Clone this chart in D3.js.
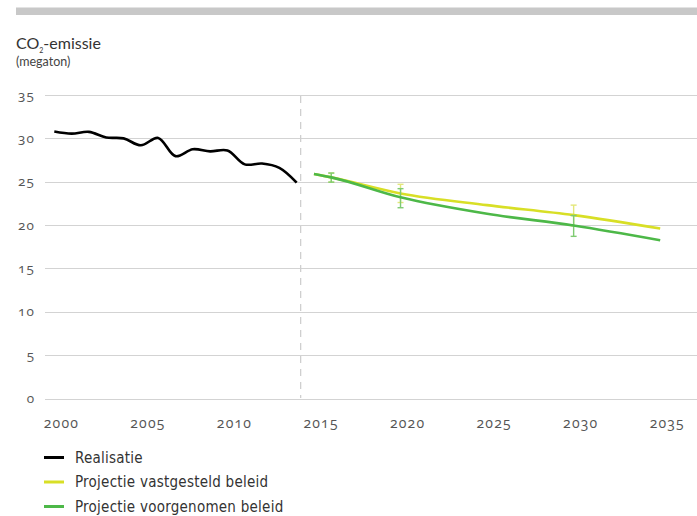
<!DOCTYPE html>
<html>
<head>
<meta charset="utf-8">
<script src="https://cdn.jsdelivr.net/npm/d3@7"></script>
<style>
  body { margin: 0; background: #fff; }
  svg { font-family: Lato, "Open Sans", sans-serif; }
  .tick-num { font-family: "Open Sans", Lato, sans-serif; font-variant-numeric: oldstyle-nums; font-feature-settings: "onum" 1; letter-spacing: 1.2px; }
</style>
</head>
<body>
<svg id="chart" width="697" height="516"></svg>
<script>
// realisatie 2000-2014
var realYears = [2000,2001,2002,2003,2004,2005,2006,2007,2008,2009,2010,2011,2012,2013,2014];
var realValues = [30.8,30.55,30.75,30.1,30.0,29.2,30.05,27.95,28.75,28.5,28.6,27.0,27.1,26.6,24.9];

// projecties
var projYears = [2015,2016,2020,2025,2030,2035];
var vastgesteld = [25.9,25.5,23.65,22.3,21.15,19.6];
var voorgenomen = [25.9,25.5,23.2,21.3,19.95,18.25];

// onzekerheidsbanden
var errYears = [2016,2020,2030];
var errVastLow = [24.95,22.6,19.9];
var errVastHigh = [26.0,24.7,22.3];
var errVoorLow = [24.95,22.0,18.7];
var errVoorHigh = [26.0,24.2,21.1];

var yTicks = [0,5,10,15,20,25,30,35];
var xTicks = [2000,2005,2010,2015,2020,2025,2030,2035];

var legendLabels = ["Realisatie","Projectie vastgesteld beleid","Projectie voorgenomen beleid"];
var legendColors = ["#000000","#d8df26","#4db848"];

var svg = d3.select("#chart");

var x = d3.scaleLinear().domain([2000, 2035]).range([54.3, 660.2]);
var y = d3.scaleLinear().domain([0, 35]).range([398.5, 95]);

// grey bar on top
svg.append("rect")
    .attr("x", 16).attr("y", 7.5)
    .attr("width", 681).attr("height", 7.5)
    .attr("fill", "#c8c8c8");

// title
var title = svg.append("text")
    .attr("x", 16).attr("y", 48.5)
    .style("font-size", "16px")
    .attr("fill", "#333");
title.append("tspan").text("CO");
title.append("tspan").attr("dy", 4).style("font-size", "7px").text("2");
title.append("tspan").attr("dy", -4).text("-emissie");

svg.append("text")
    .attr("x", 16).attr("y", 66)
    .style("font-size", "12.5px")
    .attr("fill", "#444")
    .text("(megaton)");

// grid
svg.append("g").selectAll("line")
    .data(yTicks)
    .enter().append("line")
    .attr("x1", 45).attr("x2", 697)
    .attr("y1", function(d){ return Math.round(y(d)) + 0.5; })
    .attr("y2", function(d){ return Math.round(y(d)) + 0.5; })
    .style("stroke", "#d3d3d3")
    .style("stroke-width", 1);

// y labels
svg.append("g").selectAll("text")
    .data(yTicks)
    .enter().append("text")
    .attr("class", "tick-num")
    .attr("x", 35.2)
    .attr("y", function(d){ return y(d) + 4.5; })
    .attr("text-anchor", "end")
    .style("font-size", "13.5px")
    .attr("fill", "#555")
    .text(function(d){ return d; });

// x labels
svg.append("g").selectAll("text")
    .data(xTicks)
    .enter().append("text")
    .attr("class", "tick-num")
    .attr("x", function(d){ return x(d) + 7.1; })
    .attr("y", 428)
    .attr("text-anchor", "middle")
    .style("font-size", "14px")
    .attr("fill", "#555")
    .text(function(d){ return d; });

// separator
svg.append("line")
    .attr("x1", x(2014.23)).attr("x2", x(2014.23))
    .attr("y1", 96).attr("y2", 398)
    .style("stroke", "#cfcfcf")
    .style("stroke-width", 1.3)
    .style("stroke-dasharray", "7,6");

var line = d3.line()
    .x(function(d){ return x(d[0]); })
    .y(function(d){ return y(d[1]); });

svg.append("path")
    .datum(d3.zip(realYears, realValues))
    .attr("d", line.curve(d3.curveCatmullRom.alpha(0.5)))
    .attr("fill", "none")
    .style("stroke", legendColors[0])
    .style("stroke-width", 2.6);

var projLine = d3.line()
    .x(function(d){ return x(d[0]); })
    .y(function(d){ return y(d[1]); })
    .curve(d3.curveMonotoneX);

function errorBars(lo, hi, color) {
    var g = svg.append("g").style("stroke", color).style("stroke-width", 1.4);
    errYears.forEach(function(yr, i){
        var cx = x(yr);
        g.append("line").attr("x1", cx).attr("x2", cx).attr("y1", y(lo[i])).attr("y2", y(hi[i]));
        g.append("line").attr("x1", cx - 3).attr("x2", cx + 3).attr("y1", y(lo[i])).attr("y2", y(lo[i]));
        g.append("line").attr("x1", cx - 3).attr("x2", cx + 3).attr("y1", y(hi[i])).attr("y2", y(hi[i]));
    });
}

errorBars(errVastLow, errVastHigh, "#e3e77a");

svg.append("path")
    .datum(d3.zip(projYears, vastgesteld))
    .attr("d", projLine)
    .attr("fill", "none")
    .style("stroke", legendColors[1])
    .style("stroke-width", 2.6);

errorBars(errVoorLow, errVoorHigh, "#7fcb72");

svg.append("path")
    .datum(d3.zip(projYears, voorgenomen))
    .attr("d", projLine)
    .attr("fill", "none")
    .style("stroke", legendColors[2])
    .style("stroke-width", 2.6);

// legend
var legend = svg.append("g");
legendLabels.forEach(function(lbl, i){
    var ly = 457.5 + i * 24.5;
    legend.append("line")
        .attr("x1", 44).attr("x2", 64)
        .attr("y1", ly).attr("y2", ly)
        .style("stroke", legendColors[i])
        .style("stroke-width", 3);
    legend.append("text")
        .attr("x", 75).attr("y", ly + 5)
        .style("font-family", "'DejaVu Sans Condensed', sans-serif")
        .style("font-stretch", "condensed")
        .style("font-size", "15px")
        .style("letter-spacing", "0.25px")
        .attr("fill", "#333")
        .text(lbl);
});
</script>
</body>
</html>
